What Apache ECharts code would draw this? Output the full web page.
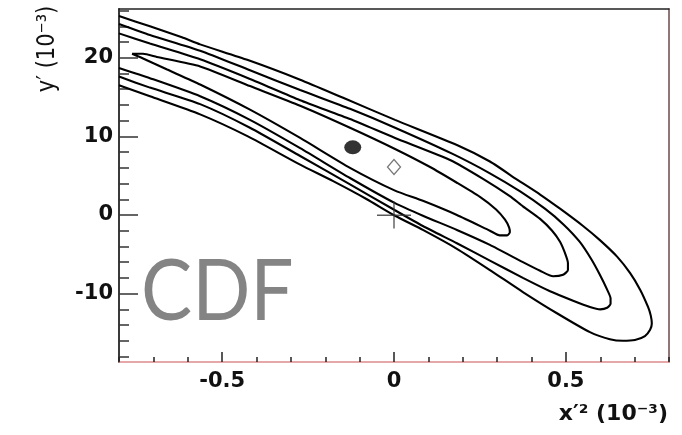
<!DOCTYPE html>
<html>
<head>
<meta charset="utf-8">
<script src="https://cdn.jsdelivr.net/npm/echarts@6/dist/echarts.min.js"></script>
<style>
  html, body { margin: 0; padding: 0; background: #ffffff; }
  #chart { width: 682px; height: 435px; }
</style>
</head>
<body>
<div id="chart"></div>
<script>
// Axis ranges and ticks (x'^2 and y' in units of 10^-3)
const xRange = [-0.8, 0.8];
const yRange = [-18.7, 26.2];
const xMajorTicks = [-0.5, 0, 0.5];
const xMinorTicks = [-0.8, -0.7, -0.6, -0.5, -0.4, -0.3, -0.2, -0.1, 0, 0.1, 0.2, 0.3, 0.4, 0.5, 0.6, 0.7, 0.8];
const yMajorTicks = [-10, 0, 10, 20];
const yMinorTicks = [-18, -16, -14, -12, -10, -8, -6, -4, -2, 0, 2, 4, 6, 8, 10, 12, 14, 16, 18, 20, 22, 24, 26];

// Likelihood contours, innermost first; each traced along its upper edge, round the tip, back along the lower edge
const contour1 = [
  [-0.762, 20.5], [-0.730, 20.5], [-0.690, 20.1], [-0.564, 18.9], [-0.419, 16.4], [-0.273, 13.9],
  [-0.128, 11.1], [0.003, 8.4], [0.105, 6.1], [0.183, 4.1], [0.250, 2.3], [0.297, 0.7], [0.323, -0.6],
  [0.335, -1.6], [0.337, -2.2], [0.329, -2.6], [0.308, -2.6], [0.279, -2.0], [0.183, 0.0], [0.084, 1.8],
  [0.003, 3.1], [-0.128, 6.0], [-0.273, 9.8], [-0.419, 13.4], [-0.564, 16.6], [-0.660, 18.5], [-0.730, 19.9],
  [-0.762, 20.5]
];
const contour2 = [
  [-0.800, 23.1], [-0.710, 21.8], [-0.564, 19.8], [-0.419, 17.3], [-0.273, 14.6], [-0.128, 12.2],
  [0.003, 9.8], [0.163, 7.0], [0.259, 4.6], [0.337, 2.4], [0.375, 1.1], [0.425, -0.5], [0.460, -2.0],
  [0.483, -3.4], [0.497, -4.8], [0.506, -6.1], [0.506, -7.0], [0.492, -7.6], [0.463, -7.8], [0.425, -7.1],
  [0.375, -6.0], [0.279, -3.8], [0.183, -1.9], [0.084, -0.1], [0.003, 1.5], [-0.128, 4.7], [-0.273, 8.5],
  [-0.419, 12.1], [-0.564, 15.1], [-0.710, 17.4], [-0.800, 18.7]
];
const contour3 = [
  [-0.800, 24.3], [-0.710, 22.9], [-0.564, 20.9], [-0.419, 18.4], [-0.273, 15.9], [-0.128, 13.5],
  [0.003, 11.1], [0.169, 7.8], [0.279, 5.3], [0.367, 3.0], [0.439, 0.8], [0.493, -1.2], [0.540, -3.4],
  [0.575, -5.7], [0.600, -7.7], [0.619, -9.4], [0.630, -10.6], [0.630, -11.3], [0.620, -11.8], [0.600, -12.0],
  [0.570, -11.7], [0.521, -10.9], [0.454, -9.7], [0.375, -8.0], [0.279, -5.8], [0.183, -3.6], [0.084, -1.4],
  [0.003, 0.6], [-0.128, 3.9], [-0.273, 7.5], [-0.419, 11.1], [-0.564, 14.1], [-0.710, 16.2], [-0.800, 17.6]
];
const contour4 = [
  [-0.800, 25.3], [-0.710, 24.0], [-0.617, 22.6], [-0.564, 21.7], [-0.425, 19.7], [-0.273, 17.2],
  [-0.148, 14.9], [0.003, 12.1], [0.183, 8.9], [0.279, 6.8], [0.358, 4.5], [0.425, 2.6], [0.483, 0.8],
  [0.550, -1.4], [0.599, -3.2], [0.649, -5.3], [0.687, -7.4], [0.716, -9.5], [0.739, -11.7], [0.747, -12.8],
  [0.750, -13.8], [0.745, -14.6], [0.730, -15.4], [0.701, -15.9], [0.666, -16.0], [0.628, -15.8], [0.570, -14.9],
  [0.474, -12.5], [0.375, -9.8], [0.279, -7.0], [0.183, -4.3], [0.084, -1.9], [0.003, -0.1], [-0.079, 2.0],
  [-0.177, 4.3], [-0.273, 6.4], [-0.425, 10.0], [-0.564, 12.8], [-0.710, 15.1], [-0.800, 16.5]
];

// Marked points
const bestFitPoint = [[-0.12, 8.6]];
const physicalPoint = [[0.0, 6.1]];
const noMixingPoint = [[0.0, 0.0]];

const contours = [contour1, contour2, contour3, contour4];

const chart = echarts.init(document.getElementById('chart'), null, { renderer: 'canvas' });

const tickFont = { fontFamily: 'DejaVu Sans', fontWeight: 'bold', fontSize: 21, color: '#111' };

const contourSeries = contours.map((pts, i) => ({
  type: 'line',
  name: 'contour' + (i + 1),
  data: pts,
  xAxisIndex: 0,
  yAxisIndex: 0,
  showSymbol: false,
  symbol: 'none',
  smooth: 0.2,
  lineStyle: { color: '#000', width: 2.1 },
  silent: true,
  z: 3
}));

chart.setOption({
  animation: false,
  backgroundColor: '#ffffff',
  grid: { left: 119, right: 13, top: 9, bottom: 73, containLabel: false },
  xAxis: [
    {
      type: 'value', position: 'bottom', min: xRange[0], max: xRange[1],
      axisLine: { show: true, onZero: false, lineStyle: { color: '#dd8a8a', width: 1.5 } },
      axisTick: { show: true, inside: true, length: 10, customValues: xMajorTicks, lineStyle: { color: '#222', width: 1.5 } },
      axisLabel: Object.assign({ show: true, margin: 9, customValues: xMajorTicks,
        formatter: v => (v === 0 ? '0' : String(v)) }, tickFont),
      splitLine: { show: false }
    },
    {
      type: 'value', position: 'bottom', min: xRange[0], max: xRange[1],
      axisLine: { show: false, onZero: false },
      axisTick: { show: true, inside: true, length: 5, customValues: xMinorTicks, lineStyle: { color: '#222', width: 1.5 } },
      axisLabel: { show: false },
      splitLine: { show: false }
    },
    {
      type: 'value', position: 'top', min: xRange[0], max: xRange[1],
      axisLine: { show: true, onZero: false, lineStyle: { color: '#222', width: 1.5 } },
      axisTick: { show: false }, axisLabel: { show: false }, splitLine: { show: false }
    }
  ],
  yAxis: [
    {
      type: 'value', position: 'left', min: yRange[0], max: yRange[1],
      axisLine: { show: true, onZero: false, lineStyle: { color: '#3a3a3a', width: 2 } },
      axisTick: { show: true, inside: true, length: 19, customValues: yMajorTicks, lineStyle: { color: '#333', width: 1.5 } },
      axisLabel: Object.assign({ show: true, margin: 6, customValues: yMajorTicks }, tickFont),
      splitLine: { show: false }
    },
    {
      type: 'value', position: 'left', min: yRange[0], max: yRange[1],
      axisLine: { show: false, onZero: false },
      axisTick: { show: true, inside: true, length: 10, customValues: yMinorTicks, lineStyle: { color: '#333', width: 1.5 } },
      axisLabel: { show: false },
      splitLine: { show: false }
    },
    {
      type: 'value', position: 'right', min: yRange[0], max: yRange[1],
      axisLine: { show: true, onZero: false, lineStyle: { color: '#6b4848', width: 1.5 } },
      axisTick: { show: false }, axisLabel: { show: false }, splitLine: { show: false }
    }
  ],
  series: contourSeries.concat([
    {
      type: 'scatter', name: 'best fit', data: bestFitPoint,
      symbol: 'circle', symbolSize: [17, 14],
      itemStyle: { color: '#000' }, z: 5, silent: true
    },
    {
      type: 'scatter', name: 'physical best fit', data: physicalPoint,
      symbol: 'diamond', symbolSize: [13, 15],
      itemStyle: { color: '#ffffff', borderColor: '#555', borderWidth: 1.3 }, z: 5, silent: true
    },
    {
      type: 'scatter', name: 'no mixing', data: noMixingPoint,
      symbol: 'path://M0,13h34v1.4h-34zM16.3,0h1.4v27h-1.4z', symbolSize: [34, 27], symbolKeepAspect: false,
      itemStyle: { color: '#333' }, z: 5, silent: true
    }
  ]),
  graphic: [
    {
      type: 'text', z: 10, silent: true, x: 141, y: 292, scaleX: 0.89,
      style: { x: 0, y: 0, text: 'CDF', fill: '#848484',
        font: '86px Lato', verticalAlign: 'middle', align: 'left' }
    },
    {
      type: 'text', z: 10, silent: true,
      style: { x: 668, y: 414, text: 'x\u2032\u00b2 (10\u207b\u00b3)', fill: '#111',
        font: 'bold 22px "DejaVu Sans"', align: 'right', verticalAlign: 'middle' }
    },
    {
      type: 'text', z: 10, silent: true, x: 47, y: 49, rotation: Math.PI / 2, scaleY: 1.2,
      style: { x: 0, y: 0, text: 'y\u2032 (10\u207b\u00b3)', fill: '#111',
        font: '21px "DejaVu Sans"', align: 'center', verticalAlign: 'middle' }
    }
  ]
});
</script>
</body>
</html>
